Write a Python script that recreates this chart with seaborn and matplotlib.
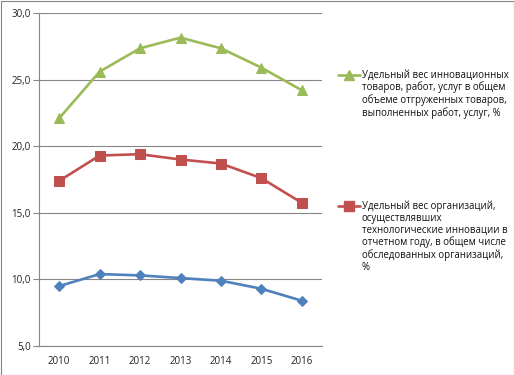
import matplotlib
matplotlib.use("Agg")
import matplotlib.pyplot as plt
import seaborn as sns
import pandas as pd
from matplotlib.lines import Line2D
from matplotlib.patches import Rectangle

years = ["2010", "2011", "2012", "2013", "2014", "2015", "2016"]
green_vals = [22.1, 25.6, 27.35, 28.15, 27.35, 25.9, 24.2]
red_vals = [17.4, 19.3, 19.4, 19.0, 18.7, 17.6, 15.75]
blue_vals = [9.5, 10.4, 10.3, 10.1, 9.9, 9.3, 8.4]
green_label = "Удельный вес инновационных\nтоваров, работ, услуг в общем\nобъеме отгруженных товаров,\nвыполненных работ, услуг, %"
red_label = "Удельный вес организаций,\nосуществлявших\nтехнологические инновации в\nотчетном году, в общем числе\nобследованных организаций,\n%"
yticks = [5.0, 10.0, 15.0, 20.0, 25.0, 30.0]

sns.set_theme(style="white")
plt.rcParams['font.family'] = ['Open Sans', 'DejaVu Sans']

rows = []
for name, vals in [("green", green_vals), ("red", red_vals), ("blue", blue_vals)]:
    for i, (y, v) in enumerate(zip(years, vals)):
        rows.append({"series": name, "pos": i, "value": v})
df = pd.DataFrame(rows)

colors = {"green": "#9BBB59", "red": "#C0504D", "blue": "#4F81BD"}
markers = {"green": "^", "red": "s", "blue": "D"}
msizes = {"green": 7, "red": 7, "blue": 5.5}

fig = plt.figure(figsize=(5.14, 3.75), dpi=100)
ax = fig.add_axes([39/514, 1-346/375, (322-39)/514, (346-13)/375])

for name in ["blue", "red", "green"]:
    sub = df[df.series == name]
    sns.lineplot(data=sub, x="pos", y="value", ax=ax, color=colors[name],
                 marker=markers[name], markersize=msizes[name],
                 markeredgecolor=colors[name], linewidth=1.9, legend=False)

ax.set_ylim(5, 30)
ax.set_xlim(-0.5, 6.5)
ax.set_yticks(yticks)
ax.set_yticklabels([f"{t:.1f}".replace(".", ",") for t in yticks], fontsize=7, color="#222222")
ax.set_xticks(range(len(years)))
ax.set_xticklabels(years, fontsize=7, color="#222222")
ax.set_xticks([i - 0.5 for i in range(len(years) + 1)], minor=True)
ax.tick_params(axis="x", which="major", length=0, pad=7)
ax.tick_params(axis="x", which="minor", length=4, color="#868686", width=0.8, direction="out")
ax.tick_params(axis="y", length=4, color="#868686", width=0.8, direction="out", pad=2, left=True)
ax.set_xlabel("")
ax.set_ylabel("")
ax.grid(axis="y", color="#868686", linewidth=0.8)
ax.set_axisbelow(True)
for s in ["top", "right"]:
    ax.spines[s].set_visible(False)
ax.spines["left"].set_color("#868686")
ax.spines["bottom"].set_color("#868686")
ax.spines["left"].set_linewidth(0.8)
ax.spines["bottom"].set_linewidth(0.8)

# legend (manual, figure coordinates)
def fx(px):
    return px / 514
def fy(py):
    return 1 - py / 375

for name, lab, ytop in [("green", green_label, 75), ("red", red_label, 205.7)]:
    fig.add_artist(Line2D([fx(338), fx(360)], [fy(ytop), fy(ytop)], color=colors[name], linewidth=1.9,
                          marker=None, transform=fig.transFigure))
    fig.add_artist(Line2D([fx(349)], [fy(ytop)], color=colors[name], marker=markers[name],
                          markersize=msizes[name], transform=fig.transFigure))
    fig.text(fx(362), fy(ytop - 5.5), lab, fontsize=6.9, va="top", ha="left",
             linespacing=1.12, color="#111111")

fig.add_artist(Rectangle((0.5/514, 0.5/375), 1 - 1/514, 1 - 1/375, transform=fig.transFigure,
                         fill=False, edgecolor="#868686", linewidth=0.8))

fig.savefig("out.png", dpi=100)
